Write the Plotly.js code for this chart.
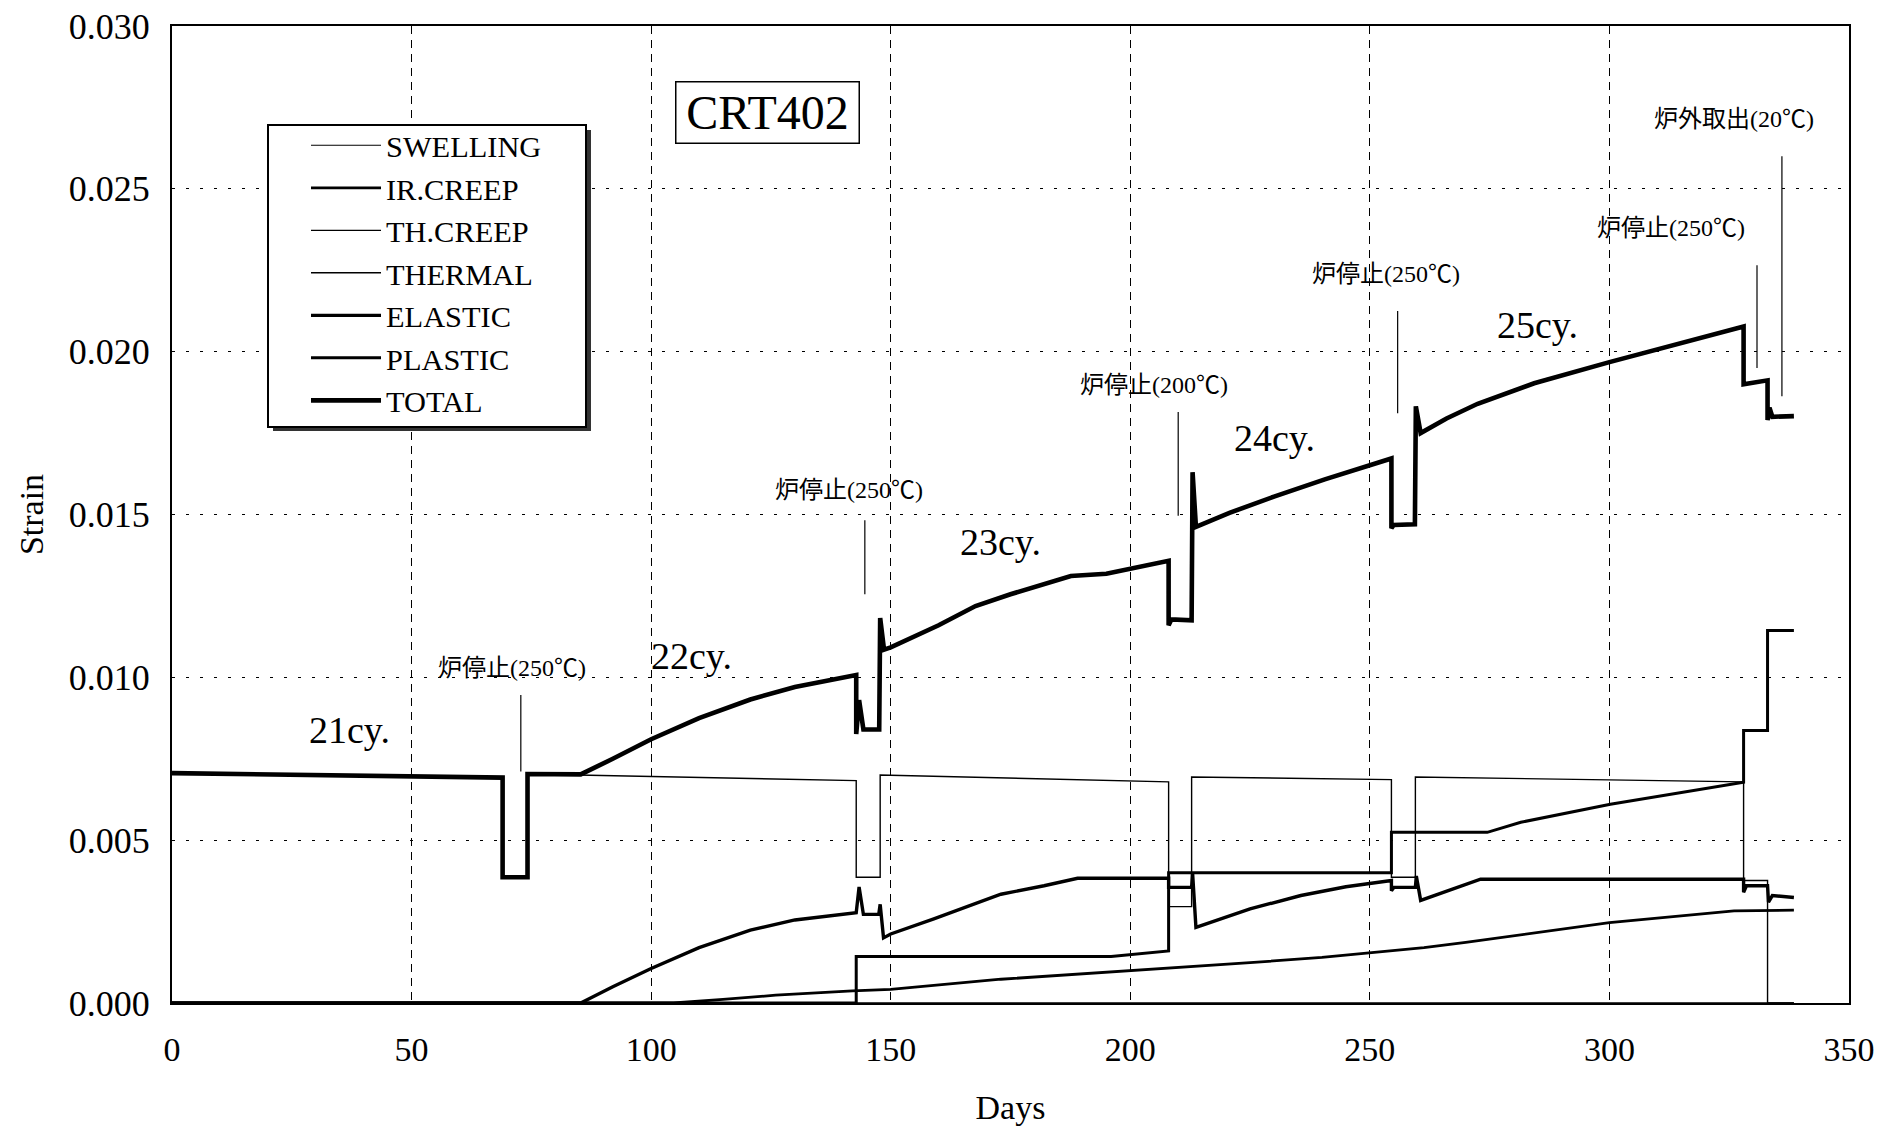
<!DOCTYPE html>
<html><head><meta charset="utf-8">
<script src="https://cdn.plot.ly/plotly-3.0.1.min.js"></script>
<style>html,body{margin:0;padding:0;background:#fff;} #chart{width:1897px;height:1133px;}</style>
</head><body><div id="chart"></div>
<script>
// ---------------- data (days, strain) ----------------
const swellingX = [0, 338.5];
const swellingY = [0, 0];

const irCreepX = [0, 104.7, 115, 126, 142, 150, 173, 200, 225, 240, 261.3, 270, 300, 326, 338.5];
const irCreepY = [0, 0, 0.00011, 0.00024, 0.00037, 0.00042, 0.00073, 0.00099, 0.00124, 0.0014, 0.0017, 0.00186, 0.00247, 0.00283, 0.00285];

const thCreepX = [0, 338.5];
const thCreepY = [0, 0];

const thermalX = [0, 69.0, 69.0, 74.2, 74.2, 142.8, 142.8, 147.8, 147.8, 208.0, 208.0, 212.8, 212.8, 254.5, 254.5, 259.5, 259.5, 328.0, 328.0, 333.0, 333.0, 338.5];
const thermalY = [0.00706, 0.00690, 0.00386, 0.00386, 0.00703, 0.00683, 0.00386, 0.00386, 0.00700, 0.00679, 0.00296, 0.00296, 0.00694, 0.00686, 0.00386, 0.00386, 0.00694, 0.00679, 0.00376, 0.00376, 0.0, 0.0];

const elasticX = [0, 85.3, 92, 100, 110, 120.7, 130, 142.8, 143.4, 144.3, 147.5, 147.8, 148.5, 150, 159, 173, 182, 189, 208.0, 208.0, 212.8, 213.0, 213.7, 225, 235.6, 245, 254.5, 254.5, 255.0, 259.5, 259.7, 260.6, 273.1, 328.0, 328.0, 328.6, 333.0, 333.2, 334.0, 338.5];
const elasticY = [0, 0, 0.0005, 0.00106, 0.0017, 0.00224, 0.00255, 0.00277, 0.00356, 0.00272, 0.00272, 0.00303, 0.00200, 0.00212, 0.00258, 0.00334, 0.0036, 0.00383, 0.00383, 0.00355, 0.00355, 0.0040, 0.00232, 0.00289, 0.0033, 0.00357, 0.00376, 0.00345, 0.00355, 0.00355, 0.0039, 0.00315, 0.0038, 0.0038, 0.0034, 0.0036, 0.0036, 0.0031, 0.0033, 0.00324];

const plasticX = [0, 142.8, 142.8, 196, 208.0, 208.0, 254.5, 254.5, 274.5, 281.5, 300.2, 328.0, 328.0, 333.0, 333.0, 338.5];
const plasticY = [0, 0, 0.00143, 0.00143, 0.0016, 0.0040, 0.0040, 0.00524, 0.00524, 0.00555, 0.0061, 0.00678, 0.00837, 0.00837, 0.01144, 0.01144];

const totalX = [0, 69.0, 69.0, 74.2, 74.2, 85.3, 92, 100, 110, 120.7, 130, 142.8, 142.8, 143.4, 144.3, 147.6, 147.8, 148.6, 150, 160, 167.7, 175, 187.6, 195, 208.0, 208.0, 208.6, 212.8, 213.0, 213.7, 220.7, 230, 240.6, 254.5, 254.5, 255.0, 259.4, 259.6, 260.6, 266, 272.5, 284.3, 300, 315, 328.0, 328.0, 333.0, 333.0, 333.4, 334.0, 338.5];
const totalY = [0.00706, 0.00692, 0.00386, 0.00386, 0.00703, 0.00702, 0.0075, 0.0081, 0.00875, 0.00932, 0.0097, 0.01007, 0.00826, 0.0093, 0.0084, 0.0084, 0.01182, 0.01085, 0.01092, 0.0116, 0.01219, 0.01255, 0.01311, 0.01318, 0.01358, 0.0116, 0.01178, 0.01175, 0.0163, 0.01462, 0.01505, 0.01555, 0.01608, 0.01672, 0.01458, 0.01468, 0.0147, 0.01832, 0.0175, 0.01795, 0.0184, 0.01903, 0.01968, 0.02025, 0.02077, 0.019, 0.01912, 0.0179, 0.01828, 0.018, 0.01802];

const seriesNames = ['SWELLING', 'IR.CREEP', 'TH.CREEP', 'THERMAL', 'ELASTIC', 'PLASTIC', 'TOTAL'];

// cycle labels
const cycleText = ['21cy.', '22cy.', '23cy.', '24cy.', '25cy.'];
const cycleX = [37, 108.5, 173, 230, 285];
const cycleY = [0.00838, 0.01067, 0.01415, 0.01735, 0.02082];

// event labels and leader lines
const eventText = ['炉停止(250℃)', '炉停止(250℃)', '炉停止(200℃)', '炉停止(250℃)', '炉停止(250℃)', '炉外取出(20℃)'];
const eventX = [71.0, 141.3, 205.0, 253.3, 312.8, 326.0];
const eventY = [0.0103, 0.01575, 0.01897, 0.0224, 0.0238, 0.02713];
const leaderX = [72.8, 144.6, 210.0, 255.8, 330.8, 336.0];
const leaderYlow = [0.00711, 0.01255, 0.01496, 0.01811, 0.0195, 0.01863];
const leaderYhigh = [0.00946, 0.01482, 0.01815, 0.02125, 0.02265, 0.026];

const xTicks = [0, 50, 100, 150, 200, 250, 300, 350];
const yTicks = [0, 0.005, 0.010, 0.015, 0.020, 0.025, 0.030];

// ---------------- styling ----------------
const SERIF = 'Liberation Serif, Times New Roman, Noto Sans CJK JP, serif';
const W = 1897, H = 1133;
const M = {l: 172, r: 48, t: 26, b: 130};
const pw = W - M.l - M.r, ph = H - M.t - M.b;
const pX = px => (px - M.l) / pw;
const pY = py => 1 - (py - M.t) / ph;

const widths = [1.2, 2.8, 1.2, 1.4, 3.4, 3.0, 4.6];
const xs = [swellingX, irCreepX, thCreepX, thermalX, elasticX, plasticX, totalX];
const ys = [swellingY, irCreepY, thCreepY, thermalY, elasticY, plasticY, totalY];

const traces = seriesNames.map((n, i) => ({
  type: 'scatter', mode: 'lines', name: n, x: xs[i], y: ys[i],
  line: {color: '#000', width: widths[i], shape: 'linear'},
  hoverinfo: 'skip'
}));

const annotations = [];
cycleText.forEach((t, i) => annotations.push({
  x: cycleX[i], y: cycleY[i], xref: 'x', yref: 'y', text: t, showarrow: false,
  font: {family: SERIF, size: 38, color: '#000'}
}));
eventText.forEach((t, i) => annotations.push({
  x: eventX[i], y: eventY[i], xref: 'x', yref: 'y', text: t, showarrow: false,
  font: {family: SERIF, size: 24, color: '#000'}
}));
annotations.push({
  x: pX(767), y: pY(112), xref: 'paper', yref: 'paper', xanchor: 'center', yanchor: 'middle',
  text: 'CRT402', showarrow: false,
  font: {family: SERIF, size: 48, color: '#000'},
  bordercolor: '#000', borderwidth: 1.5, borderpad: 2, width: 178, height: 56, bgcolor: '#fff'
});

const shapes = [];
leaderX.forEach((x, i) => shapes.push({
  type: 'line', xref: 'x', yref: 'y', x0: x, x1: x, y0: leaderYlow[i], y1: leaderYhigh[i],
  line: {color: '#000', width: 1.2}
}));
// legend frame with shadow
shapes.push({type: 'rect', xref: 'paper', yref: 'paper', x0: pX(273), x1: pX(591), y0: pY(431), y1: pY(130),
  fillcolor: '#333', line: {width: 0}, layer: 'above'});
shapes.push({type: 'rect', xref: 'paper', yref: 'paper', x0: pX(268), x1: pX(586), y0: pY(427), y1: pY(125),
  fillcolor: '#fff', line: {color: '#000', width: 2}, layer: 'above'});

const layout = {
  width: W, height: H,
  margin: M,
  paper_bgcolor: '#fff', plot_bgcolor: '#fff',
  showlegend: true,
  legend: {
    x: pX(306), y: pY(119), xanchor: 'left', yanchor: 'top',
    bgcolor: 'rgba(0,0,0,0)', borderwidth: 0,
    font: {family: SERIF, size: 30.4, color: '#000'},
    itemwidth: 70, tracegroupgap: 0, traceorder: 'normal'
  },
  xaxis: {
    range: [0, 350], tickvals: xTicks, ticktext: xTicks.map(String),
    showgrid: true, gridcolor: '#000', gridwidth: 1, griddash: '8px,6px',
    showline: true, linecolor: '#000', linewidth: 2, mirror: true,
    ticks: '', zeroline: false,
    tickfont: {family: SERIF, size: 34, color: '#000'},
    ticklabelstandoff: 15,
    title: {text: 'Days', font: {family: SERIF, size: 34, color: '#000'}, standoff: 28}
  },
  yaxis: {
    range: [0, 0.030], tickvals: yTicks, ticktext: yTicks.map(v => v.toFixed(3)),
    showgrid: true, gridcolor: '#000', gridwidth: 1, griddash: '3px,11px',
    showline: true, linecolor: '#000', linewidth: 2, mirror: true,
    ticks: '', zeroline: false,
    tickfont: {family: SERIF, size: 36, color: '#000'},
    ticklabelstandoff: 13,
    title: {text: 'Strain', font: {family: SERIF, size: 34, color: '#000'}, standoff: 15}
  },
  annotations: annotations,
  shapes: shapes
};

Plotly.newPlot('chart', traces, layout, {staticPlot: true, displayModeBar: false});
</script>
</body></html>
